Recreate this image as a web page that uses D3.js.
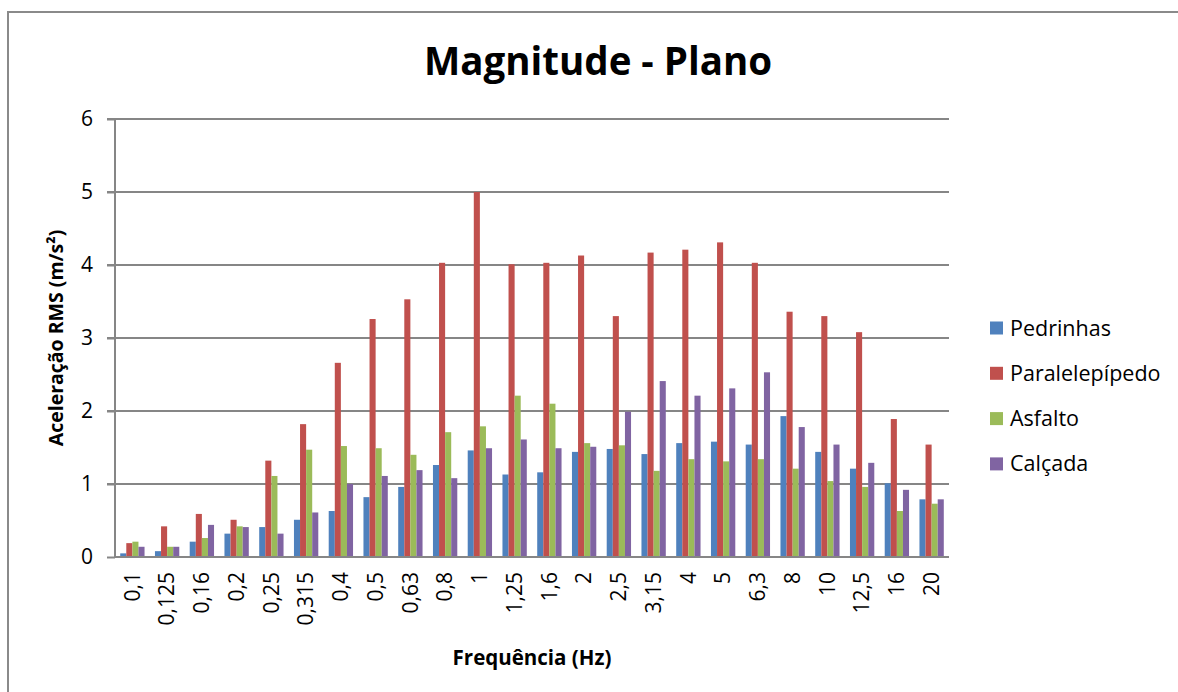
<!DOCTYPE html>
<html><head><meta charset="utf-8">
<script src="https://cdn.jsdelivr.net/npm/d3@7"></script>
<style>
html,body{margin:0;padding:0;background:#fff;}
svg{display:block;}
text{font-family:"Open Sans","Noto Sans",sans-serif;fill:#000;}
</style></head>
<body>
<script>
const categories = ["0,1","0,125","0,16","0,2","0,25","0,315","0,4","0,5","0,63","0,8","1","1,25","1,6","2","2,5","3,15","4","5","6,3","8","10","12,5","16","20"];
const seriesNames = ["Pedrinhas","Paralelepípedo","Asfalto","Calçada"];
const pedrinhas     = [0.05,0.08,0.21,0.32,0.41,0.51,0.63,0.82,0.96,1.26,1.46,1.13,1.16,1.44,1.48,1.41,1.56,1.58,1.54,1.93,1.44,1.21,1.01,0.79];
const paralelepipedo= [0.19,0.42,0.59,0.51,1.32,1.82,2.66,3.26,3.53,4.03,5.00,4.01,4.03,4.13,3.30,4.17,4.21,4.31,4.03,3.36,3.30,3.08,1.89,1.54];
const asfalto       = [0.21,0.14,0.26,0.42,1.11,1.47,1.52,1.49,1.40,1.71,1.79,2.21,2.10,1.56,1.53,1.18,1.34,1.31,1.34,1.21,1.04,0.96,0.63,0.73];
const calcada       = [0.14,0.14,0.44,0.41,0.32,0.61,1.00,1.11,1.19,1.08,1.49,1.61,1.49,1.51,1.99,2.41,2.21,2.31,2.53,1.78,1.54,1.29,0.92,0.79];
const yTicks = [0,1,2,3,4,5,6];
const colors = ["#4F81BD","#C0504D","#9BBB59","#8064A2"];
const titleText = "Magnitude - Plano";
const yTitle = "Aceleração RMS (m/s²)";
const xTitle = "Frequência (Hz)";

const values = [pedrinhas, paralelepipedo, asfalto, calcada];
const W = 1178, H = 692;
const m = {left:115, right:949, top:119, bottom:557};

const svg = d3.select("body").append("svg").attr("width",W).attr("height",H);

// outer border
svg.append("rect").attr("x",8).attr("y",12).attr("width",W+20).attr("height",H+20)
  .attr("fill","none").attr("stroke","#8a8a8a").attr("stroke-width",2);

const x = d3.scaleBand().domain(categories).range([m.left,m.right]).paddingInner(0.3).paddingOuter(0.15);
const xs = d3.scaleBand().domain(d3.range(4)).range([0,x.bandwidth()]);
const y = d3.scaleLinear().domain([0,6]).range([m.bottom,m.top]);

// gridlines
svg.append("g").selectAll("line").data(yTicks.filter(d=>d>0)).join("line")
  .attr("x1",m.left-8).attr("x2",m.right).attr("y1",d=>y(d)).attr("y2",d=>y(d))
  .attr("stroke","#868686").attr("stroke-width",2);

// bars
const g = svg.append("g");
categories.forEach((c,i)=>{
  values.forEach((s,k)=>{
    g.append("rect").attr("x",x(c)+xs(k)).attr("width",xs.bandwidth())
      .attr("y",y(s[i])).attr("height",y(0)-y(s[i])).attr("fill",colors[k]);
  });
});

// y axis
const ya = svg.append("g").attr("transform",`translate(${m.left},0)`)
  .call(d3.axisLeft(y).tickValues(yTicks).tickSize(8).tickPadding(14).tickFormat(d3.format("d")));
ya.select(".domain").attr("stroke","#868686").attr("stroke-width",2).attr("d",`M0,${m.top}V${m.bottom}`);
ya.selectAll(".tick line").attr("stroke","#868686").attr("stroke-width",2);
ya.selectAll(".tick text").attr("font-size",21).attr("font-family","Open Sans").attr("fill","#000");

// x axis
const xa = svg.append("g").attr("transform",`translate(0,${m.bottom})`)
  .call(d3.axisBottom(x).tickSize(0).tickPadding(0));
xa.select(".domain").attr("stroke","#868686").attr("stroke-width",2).attr("d",`M${m.left},0H${m.right}`);
xa.selectAll(".tick text").attr("font-size",21).attr("font-family","Open Sans").attr("fill","#000")
  .attr("transform","rotate(-90)").attr("text-anchor","end").attr("dy","0.35em").attr("x",-15).attr("y",0);

// titles
svg.append("text").attr("x",598).attr("y",75).attr("text-anchor","middle")
  .attr("font-size",38.5).attr("font-weight","bold").text(titleText);
svg.append("text").attr("transform",`translate(63,${(m.top+m.bottom)/2}) rotate(-90)`)
  .attr("text-anchor","middle").attr("font-size",19.5).attr("font-weight","bold").text(yTitle);
svg.append("text").attr("x",(m.left+m.right)/2).attr("y",665).attr("text-anchor","middle")
  .attr("font-size",20.5).attr("font-weight","bold").text(xTitle);

// legend
const lg = svg.append("g");
seriesNames.forEach((n,k)=>{
  const cy = 328 + k*45.3;
  lg.append("rect").attr("x",990).attr("y",cy-6.5).attr("width",13).attr("height",13).attr("fill",colors[k]);
  lg.append("text").attr("x",1010).attr("y",cy).attr("dy","0.35em").attr("font-size",21.5).text(n);
});
</script>
</body></html>
